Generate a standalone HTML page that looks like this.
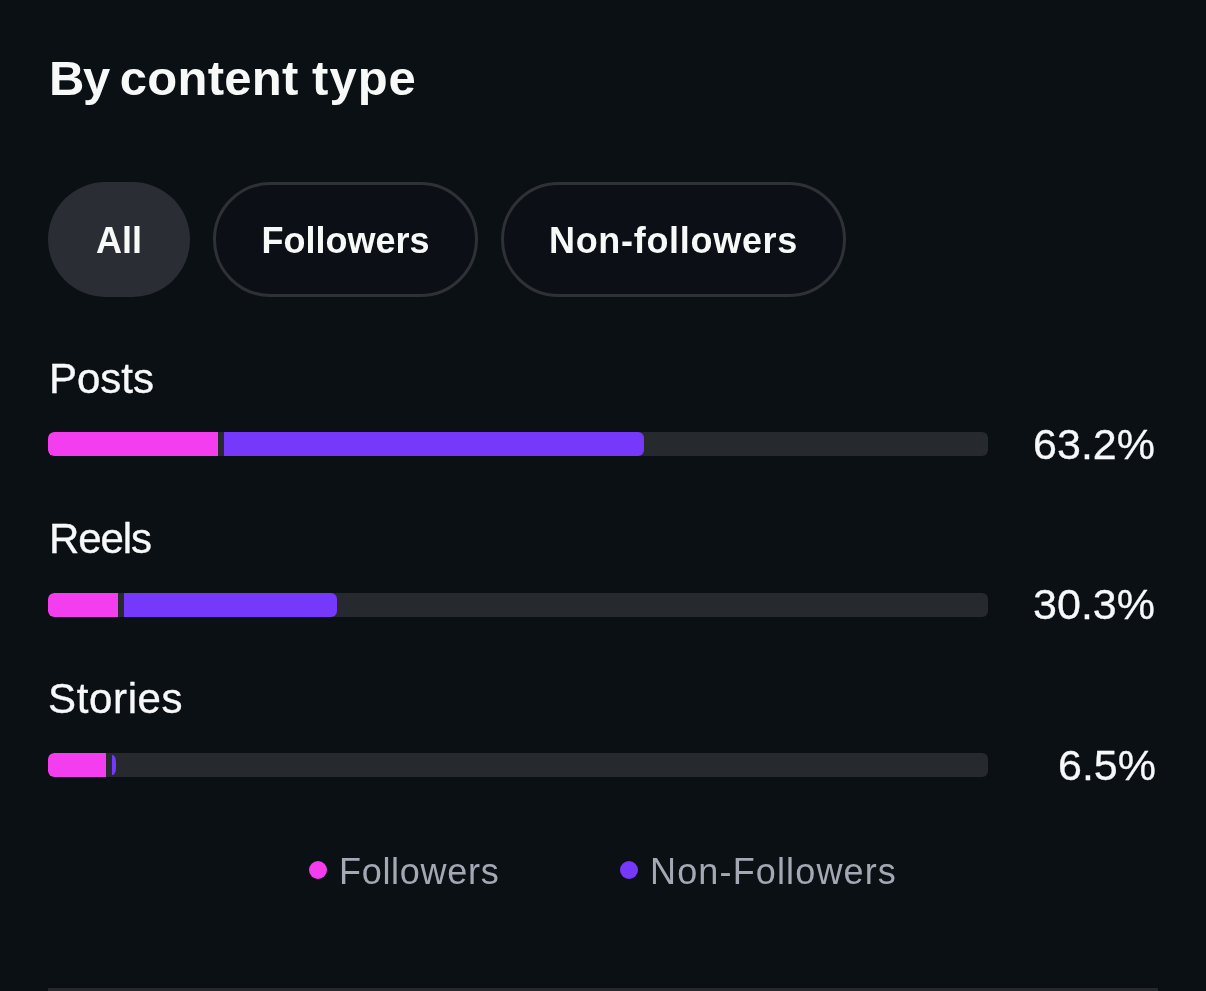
<!DOCTYPE html>
<html lang="en">
<head>
<meta charset="utf-8">
<title>By content type</title>
<style>
  html, body { margin: 0; padding: 0; }
  body {
    width: 1206px; height: 991px; overflow: hidden; position: relative;
    background: #0b1014;
    font-family: "Liberation Sans", Arial, Helvetica, sans-serif;
    color: #f5f6f7;
  }
  .abs { position: absolute; white-space: nowrap; line-height: 1; }
  h1.title {
    margin: 0; left: 49px; top: 51px; font-size: 49px; font-weight: 700; line-height: 55px;
    letter-spacing: 0; color: #f7f8f8;
  }
  .pill {
    top: 182px; height: 115px; border-radius: 58px; box-sizing: border-box;
    display: flex; align-items: center; justify-content: center;
    font-size: 36px; font-weight: 700; color: #f7f8f8; padding-top: 2px;
  }
  .pill.on { background: #2a2e34; }
  .pill.off { border: 3px solid #2e3237; background: #0c0f15; }
  .label { left: 49px; font-size: 42px; font-weight: 400; color: #f7f8f9; -webkit-text-stroke: 0.35px #f7f8f9; }
  .track { left: 48px; width: 940px; height: 24px; border-radius: 6px; background: #262a2f; overflow: hidden; }
  .seg { position: absolute; top: 0; height: 24px; }
  .pink { background: #f53df0; left: 0; border-radius: 6px 0 0 6px; }
  .purple { background: #7638fa; border-radius: 0 6px 6px 0; }
  .pct { right: 51px; font-size: 43px; font-weight: 400; text-align: right; color: #f7f8f9; -webkit-text-stroke: 0.3px #f7f8f9; }
  .legend { font-size: 36px; color: #a3a8b4; }
  .dot { width: 18px; height: 18px; border-radius: 50%; top: 861px; }
  .rule { left: 48px; width: 1110px; top: 988px; height: 3px; background: #25292e; }
</style>
</head>
<body>
  <h1 class="abs title"><span style="letter-spacing:-1.5px">By</span><span style="word-spacing:-2.5px"> </span><span style="letter-spacing:0.25px">content</span> <span style="letter-spacing:1px">type</span></h1>

  <div class="abs pill on" style="left:48px; width:142px;">All</div>
  <div class="abs pill off" style="left:213px; width:265px;">Followers</div>
  <div class="abs pill off" style="left:501px; width:345px; letter-spacing:0.7px;">Non-followers</div>

  <div class="abs label" style="top:358px;">Posts</div>
  <div class="abs track" style="top:432px;">
    <div class="seg pink" style="width:170px;"></div>
    <div class="seg purple" style="left:176px; width:420px;"></div>
  </div>
  <div class="abs pct" style="top:423px;">63.2%</div>

  <div class="abs label" style="top:518px; letter-spacing:-1.1px;">Reels</div>
  <div class="abs track" style="top:592.5px;">
    <div class="seg pink" style="width:70px;"></div>
    <div class="seg purple" style="left:76px; width:213px;"></div>
  </div>
  <div class="abs pct" style="top:583px;">30.3%</div>

  <div class="abs label" style="top:678px; left:48px; letter-spacing:0.65px;">Stories</div>
  <div class="abs track" style="top:753px;">
    <div class="seg pink" style="width:58px;"></div>
    <div class="seg purple" style="left:64px; width:3.5px; top:2px; height:20px; border-radius:0 3.5px 3.5px 0 / 0 7px 7px 0;"></div>
  </div>
  <div class="abs pct" style="top:744px; right:50px;">6.5%</div>

  <div class="abs dot" style="left:309px; background:#f53df0;"></div>
  <div class="abs legend" style="left:339px; top:854px; letter-spacing:0.7px;">Followers</div>
  <div class="abs dot" style="left:620px; background:#7638fa;"></div>
  <div class="abs legend" style="left:650px; top:854px; letter-spacing:1.15px;">Non-Followers</div>

  <div class="abs rule"></div>
</body>
</html>
